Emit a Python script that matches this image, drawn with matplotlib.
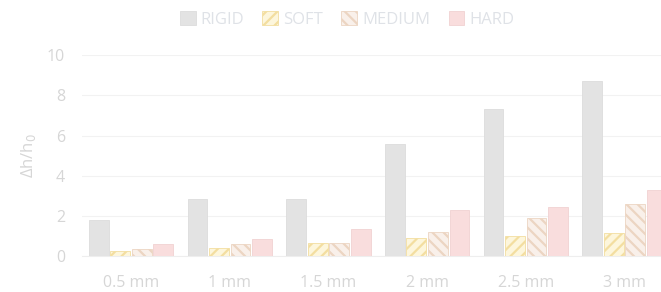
import numpy as np
import matplotlib
matplotlib.use("Agg")
import matplotlib.pyplot as plt

categories = ["0.5 mm", "1 mm", "1.5 mm", "2 mm", "2.5 mm", "3 mm"]
rigid = [1.83, 2.87, 2.87, 5.6, 7.3, 8.7]
soft = [0.28, 0.4, 0.65, 0.9, 1.0, 1.15]
medium = [0.35, 0.6, 0.65, 1.2, 1.9, 2.6]
hard = [0.6, 0.85, 1.35, 2.3, 2.45, 3.3]
series_names = ["RIGID", "SOFT", "MEDIUM", "HARD"]

plt.rcParams["font.family"] = ["Open Sans", "DejaVu Sans"]
plt.rcParams["hatch.linewidth"] = 1.6
text_color = "#d6d6d6"

fig = plt.figure(figsize=(6.61, 2.92), dpi=100)
ax = fig.add_axes([0.1235, 0.1216, 0.896, 0.69])

x = np.arange(len(categories))
w = 0.2
step = 0.218
styles = [
    dict(color="#e3e3e3", edgecolor="#dcdcdc", hatch=None),
    dict(color="#fdf6dc", edgecolor="#f3dea0", hatch="///"),
    dict(color="#f9f0ea", edgecolor="#ecd5c2", hatch="\\\\\\"),
    dict(color="#f9dddd", edgecolor="#f1d2d2", hatch=None),
]
for i, (vals, name, st) in enumerate(zip([rigid, soft, medium, hard], series_names, styles)):
    ax.bar(x + (i - 1.5) * step, vals, w, label=name, color=st["color"],
           edgecolor=st["edgecolor"], hatch=st["hatch"], linewidth=0.6, zorder=3)

ax.set_xlim(-0.5, len(categories) - 0.5)
ax.set_ylim(0, 10)
ax.set_yticks(range(0, 11, 2))
ax.set_xticks(x)
ax.set_xticklabels(categories)
ax.grid(axis="y", color="#f2f2f2", linewidth=0.8, zorder=0)
for s in ["top", "right", "left"]:
    ax.spines[s].set_visible(False)
ax.spines["bottom"].set_color("#eeeeee")
ax.tick_params(length=0, colors=text_color, labelsize=11.5, pad=13)
ax.tick_params(axis="y", pad=12)
ax.set_ylabel("Δh/h$_0$", color=text_color, fontsize=12, labelpad=6)

fig.legend(loc="upper center", bbox_to_anchor=(0.525, 1.015), ncol=4, frameon=False,
           fontsize=12, labelcolor="#dfe2e7", handlelength=0.95, handleheight=0.95,
           handletextpad=0.3, columnspacing=1.1)

fig.savefig("out.png", dpi=100)
